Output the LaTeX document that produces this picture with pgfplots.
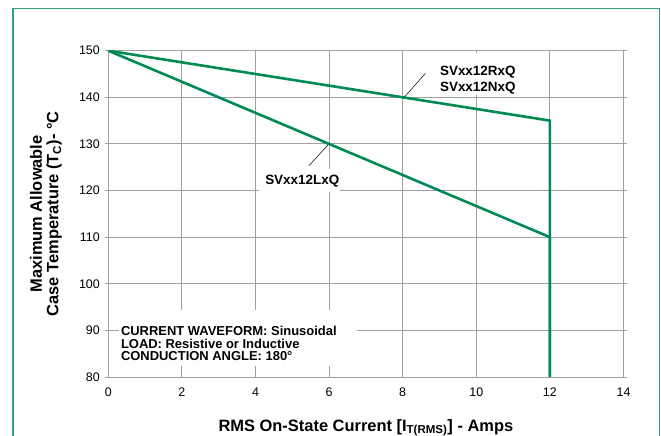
\documentclass[border=0pt]{standalone}
\usepackage{fontspec}
\setmainfont{Liberation Sans}
\usepackage{pgfplots}
\pgfplotsset{compat=1.18}
\definecolor{lfgreen}{RGB}{0,138,84}
\definecolor{gridgray}{RGB}{160,160,160}
\begin{document}
\begin{tikzpicture}[x=1bp,y=1bp]
\useasboundingbox (0,0) rectangle (661,436);
% outer frame
\draw[lfgreen!80, line width=1.3bp] (13,-2) -- (13,427.7) -- (659.3,427.7) -- (659.3,-2);
\begin{axis}[
    at={(108.3bp,59bp)}, anchor=south west,
    scale only axis,
    width=515.2bp, height=326.3bp,
    xmin=0, xmax=14, ymin=80, ymax=150,
    xtick={0,2,...,14}, ytick={80,90,...,150},
    grid=major,
    major grid style={gridgray, line width=0.9bp},
    axis line style={gridgray, line width=0.9bp},
    tick style={gridgray, line width=0.9bp},
    xtick style={draw=none},
    ytick align=outside, major tick length=3bp,
    /pgf/number format/assume math mode=true,
    ticklabel style={font=\fontsize{12.5}{12.5}\selectfont},
    xticklabel style={yshift=-7bp},
    yticklabel style={xshift=-2bp},
    xlabel={RMS On-State Current [I\textsubscript{T(RMS)}] - Amps},
    xlabel style={font=\bfseries\fontsize{16.5}{18}\selectfont, at={(axis description cs:0.5,-0.166)}, anchor=base},
    ylabel={Maximum Allowable\\Case Temperature (T\textsubscript{C})- °C},
    ylabel style={font=\bfseries\fontsize{16.5}{16.5}\selectfont, align=center, at={(axis description cs:-0.121,0.5)}, anchor=center},
]
% SVxx12RxQ / SVxx12NxQ
\addplot[lfgreen, line width=2.6bp] coordinates {(0,150) (12,135) (12,80)};
% SVxx12LxQ
\addplot[lfgreen, line width=2.6bp] coordinates {(0,150) (12,110) (12,80)};
% white patches behind the labels
\fill[white] (axis cs:0.29,82.4) rectangle (axis cs:6.76,94.4);
\fill[white] (axis cs:8.15,140.4) rectangle (axis cs:11.0,149.5);
\fill[white] (axis cs:4.1,119.6) rectangle (axis cs:6.3,124.6);
% leader lines
\draw[black, line width=0.5bp] (axis cs:8.05,140.1) -- (axis cs:8.62,145.15);
\draw[black, line width=0.5bp] (axis cs:5.97,129.8) -- (axis cs:5.45,125.3);
% labels
\node[font=\bfseries\fontsize{13.5}{13.5}\selectfont, anchor=base west, inner sep=0] at (axis cs:9.01,144.6) {SVxx12RxQ};
\node[font=\bfseries\fontsize{13.5}{13.5}\selectfont, anchor=base west, inner sep=0] at (axis cs:9.01,141.2) {SVxx12NxQ};
\node[font=\bfseries\fontsize{13.5}{13.5}\selectfont, anchor=base west, inner sep=0] at (axis cs:4.26,121.4) {SVxx12LxQ};
\node[font=\bfseries\fontsize{13}{13}\selectfont, anchor=base west, inner sep=0] at (axis cs:0.34,88.8) {CURRENT WAVEFORM: Sinusoidal};
\node[font=\bfseries\fontsize{13}{13}\selectfont, anchor=base west, inner sep=0] at (axis cs:0.34,86.2) {LOAD: Resistive or Inductive};
\node[font=\bfseries\fontsize{13}{13}\selectfont, anchor=base west, inner sep=0] at (axis cs:0.34,83.6) {CONDUCTION ANGLE: 180°};
\end{axis}
\end{tikzpicture}
\end{document}
